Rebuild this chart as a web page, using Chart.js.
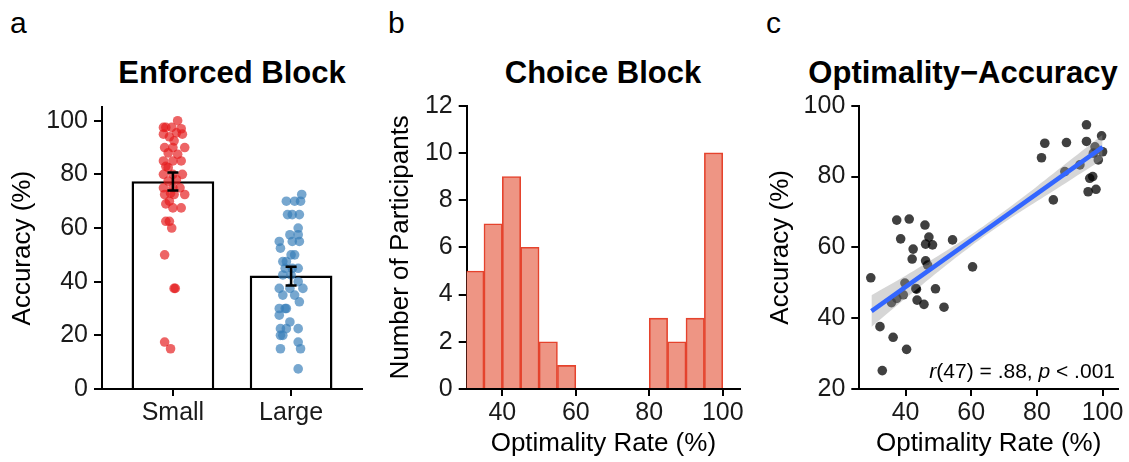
<!DOCTYPE html>
<html lang="en">
<head>
    <meta charset="UTF-8">
    <title>Enforced / Choice Block</title>
    <style>
        body {
            margin: 0;
            width: 1129px;
            height: 462px;
            position: relative;
            background: #fff;
            font-family: "Liberation Sans", Arial, sans-serif;
            overflow: hidden;
        }
        canvas {
            position: absolute;
            top: 0;
        }
        .letter {
            position: absolute;
            top: 5px;
            font-size: 30px;
            line-height: 36px;
            color: #000;
        }
        .title {
            position: absolute;
            top: 55px;
            width: 400px;
            text-align: center;
            font-size: 31px;
            font-weight: bold;
            line-height: 36px;
            color: #000;
        }
        .stat {
            position: absolute;
            top: 359px;
            right: 14px;
            font-size: 21px;
            line-height: 24px;
            color: #000;
        }
    </style>
</head>
<body>
    <div class="letter" style="left:10px">a</div>
    <div class="letter" style="left:388px">b</div>
    <div class="letter" style="left:766px">c</div>

    <div class="title" style="left:32px">Enforced Block</div>
    <div class="title" style="left:403px">Choice Block</div>
    <div class="title" style="left:763px">Optimality−Accuracy</div>

    <canvas id="chartA" width="375" height="462" style="left:0px"></canvas>
    <canvas id="chartB" width="375" height="462" style="left:375px"></canvas>
    <canvas id="chartC" width="379" height="462" style="left:750px"></canvas>

    <div class="stat"><i>r</i>(47) = .88, <i>p</i> &lt; .001</div>

    <script src="https://cdn.jsdelivr.net/npm/chart.js"></script>
    <script>
        // ---- panel a: accuracy per reward size ----
        const groups = ['Small', 'Large'];
        const meanAcc = [77.4, 42.3];
        const seLow = [74.0, 38.6];
        const seHigh = [80.7, 45.6];

        const smallAcc = [100, 97.5, 97.5, 97.5, 97, 95, 95, 94, 92.5, 95.5, 90, 90, 90, 88, 87.5,
            85, 85, 85, 83, 82.5, 80, 80, 80, 78, 77.5, 75, 75, 75, 73, 72.5, 72.5, 72.5, 70, 69,
            67.5, 67.5, 62.5, 62.5, 60, 50, 37.5, 37.5, 17.5, 15];
        const smallJitter = [0.04, -0.08, -0.06, -0.01, 0.07, -0.08, 0.08, -0.03, 0.01, 0.03, -0.07, 0, 0.10, -0.04, 0.04,
            -0.08, 0, 0.07, -0.06, -0.04, -0.08, 0, 0.08, 0.03, -0.04, -0.08, 0, 0.06, -0.02, -0.07, 0.01, 0.10, -0.03, -0.06,
            0, 0.07, -0.06, -0.03, -0.01, -0.07, 0.01, 0.02, -0.07, -0.02];

        const largeAcc = [72.5, 70, 70, 70, 65, 65, 65, 60, 57.5, 57.5, 55, 55, 55, 52.5, 50, 50,
            47.5, 47.5, 45, 45, 45, 42.5, 42.5, 40, 37.5, 37.5, 37.5, 35, 35, 32.5, 30, 30, 30,
            27.5, 25, 22.5, 22.5, 22.5, 20, 20, 17.5, 15, 15, 7.5];
        const largeJitter = [0.09, -0.04, 0.03, 0.08, -0.03, 0.01, 0.07, 0.06, -0.01, 0.06, -0.10, 0.01, 0.07, -0.09, 0.03, 0,
            -0.07, -0.04, -0.05, 0.01, 0.06, -0.07, 0, 0.06, -0.10, -0.01, 0.10, -0.07, 0.03, 0.07, -0.10, -0.05, -0.04,
            -0.10, -0.01, -0.09, -0.04, 0.06, -0.09, -0.07, 0.06, -0.09, 0.08, 0.06];

        // ---- panel b: histogram of optimality rate ----
        const binCenters = [32.5, 37.5, 42.5, 47.5, 52.5, 57.5, 82.5, 87.5, 92.5, 97.5];
        const binCounts = [5, 7, 9, 6, 2, 1, 3, 2, 3, 10];

        // ---- panel c: optimality vs accuracy ----
        const optRate = [37.3, 41.1, 45.9, 38.5, 47.1, 48.2, 46.1, 54.3, 42.3, 42.0, 46.1, 46.7, 60.4, 29.4,
            39.8, 43.1, 43.3, 49.1, 39.3, 37.3, 35.7, 43.5, 45.6, 51.7, 32.2, 36.2, 40.3, 32.9,
            95.1, 82.4, 89.0, 95.1, 99.7, 81.4, 97.7, 100, 98.7, 93.1, 88.5, 96.1, 97.0, 95.6, 98.0, 85.0, 97.2];
        const accuracy = [67.7, 68.0, 66.3, 62.4, 62.9, 60.7, 60.9, 62.1, 59.5, 56.7, 56.2, 55.0, 54.5, 51.4,
            49.9, 48.4, 48.2, 48.3, 46.6, 45.6, 44.4, 45.1, 43.9, 43.1, 37.6, 34.6, 31.2, 25.2,
            94.6, 89.4, 89.6, 89.9, 91.5, 85.3, 88.4, 87.0, 84.7, 83.3, 81.4, 79.5, 80.0, 75.7, 76.4, 73.4, 86.6];

        const fitX = [29.6, 100];
        const fitY = [42.0, 88.3];
        const bandX = [29.6, 40, 50, 60, 70, 80, 90, 100];
        const bandUpper = [46.5, 52.0, 57.6, 63.6, 70.2, 77.2, 84.5, 91.8];
        const bandLower = [37.5, 45.6, 53.2, 60.4, 67.0, 73.0, 78.9, 84.8];

        Chart.defaults.font.family = '"Liberation Sans", Arial, sans-serif';
        Chart.defaults.color = '#000';
        Chart.defaults.animation = false;

        // axis in ggplot classic style: black line, outward ticks, no grid
        function axis(min, max, tickVals, opts) {
            return {
                type: 'linear',
                min: min,
                max: max,
                offset: false,
                afterBuildTicks: s => { s.ticks = tickVals.map(v => ({ value: v })); },
                afterFit: opts.fit,
                border: { display: true, color: '#000', width: 2 },
                grid: {
                    drawOnChartArea: false, drawTicks: true, offset: false,
                    tickLength: opts.tickLength, color: '#000', lineWidth: 2
                },
                ticks: {
                    color: '#1a1a1a', font: { size: 25 }, padding: opts.padding,
                    autoSkip: false, maxRotation: 0, minRotation: 0,
                    callback: opts.label || (v => v)
                },
                title: opts.title ? {
                    display: true, text: opts.title, color: '#000',
                    font: { size: 26 }, padding: opts.titlePad
                } : { display: false }
            };
        }

        const baseOpts = {
            responsive: false,
            plugins: { legend: { display: false }, tooltip: { enabled: false } }
        };

        // error bars for panel a
        const errorBars = {
            id: 'errorBars',
            afterDatasetsDraw(chart) {
                const { ctx, scales: { x, y } } = chart;
                ctx.save();
                ctx.strokeStyle = '#000';
                ctx.lineWidth = 2.5;
                meanAcc.forEach((m, i) => {
                    const px = x.getPixelForValue(i + 1);
                    const lo = y.getPixelForValue(seLow[i]);
                    const hi = y.getPixelForValue(seHigh[i]);
                    ctx.beginPath();
                    ctx.moveTo(px, lo); ctx.lineTo(px, hi);
                    ctx.moveTo(px - 5.5, lo); ctx.lineTo(px + 5.5, lo);
                    ctx.moveTo(px - 5.5, hi); ctx.lineTo(px + 5.5, hi);
                    ctx.stroke();
                });
                ctx.restore();
            }
        };

        new Chart(document.getElementById('chartA'), {
            type: 'bar',
            data: {
                datasets: [
                    {
                        type: 'scatter',
                        data: smallAcc.map((v, i) => ({ x: 1 + smallJitter[i], y: v })),
                        backgroundColor: 'rgba(228,26,28,0.68)',
                        borderWidth: 0,
                        pointRadius: 4.8
                    },
                    {
                        type: 'scatter',
                        data: largeAcc.map((v, i) => ({ x: 2 + largeJitter[i], y: v })),
                        backgroundColor: 'rgba(55,126,184,0.68)',
                        borderWidth: 0,
                        pointRadius: 4.8
                    },
                    {
                        type: 'bar',
                        data: meanAcc.map((v, i) => ({ x: i + 1, y: v })),
                        backgroundColor: '#fff',
                        borderColor: '#000',
                        borderWidth: 2.5,
                        barPercentage: 0.7,
                        categoryPercentage: 1
                    }
                ]
            },
            options: Object.assign({}, baseOpts, {
                layout: { padding: { left: 0, right: 13, top: 107.3, bottom: 0 } },
                scales: {
                    x: axis(0.4, 2.6, [1, 2], {
                        fit: s => { s.height = 73; }, tickLength: 7, padding: 2,
                        label: v => groups[Math.round(v) - 1]
                    }),
                    y: axis(0, 105, [0, 20, 40, 60, 80, 100], {
                        fit: s => { s.width = 102; }, tickLength: 8, padding: 6,
                        title: 'Accuracy (%)', titlePad: { top: 7.4, bottom: 0 }
                    })
                }
            }),
            plugins: [errorBars]
        });

        new Chart(document.getElementById('chartB'), {
            type: 'bar',
            data: {
                datasets: [{
                    data: binCenters.map((c, i) => ({ x: c, y: binCounts[i] })),
                    backgroundColor: '#EE9584',
                    borderColor: '#E5432D',
                    borderWidth: 1.6,
                    barPercentage: 1,
                    categoryPercentage: 1
                }]
            },
            options: Object.assign({}, baseOpts, {
                layout: { padding: { left: 0, right: 10, top: 105.7, bottom: 0 } },
                scales: {
                    x: axis(30.3, 104.7, [40, 60, 80, 100], {
                        fit: s => { s.height = 73; }, tickLength: 7, padding: 2,
                        title: 'Optimality Rate (%)', titlePad: { top: 0, bottom: 3 }
                    }),
                    y: axis(0, 12, [0, 2, 4, 6, 8, 10, 12], {
                        fit: s => { s.width = 91.7; }, tickLength: 8, padding: 6,
                        title: 'Number of Participants', titlePad: { top: 10.4, bottom: 0 }
                    })
                }
            })
        });

        new Chart(document.getElementById('chartC'), {
            type: 'scatter',
            data: {
                datasets: [
                    {
                        type: 'line',
                        data: fitX.map((v, i) => ({ x: v, y: fitY[i] })),
                        borderColor: '#3366FF',
                        borderWidth: 4.5,
                        pointRadius: 0,
                        fill: false,
                        order: 0
                    },
                    {
                        type: 'line',
                        data: bandX.map((v, i) => ({ x: v, y: bandUpper[i] })),
                        borderColor: 'transparent',
                        pointRadius: 0,
                        tension: 0.3,
                        fill: '+1',
                        backgroundColor: 'rgba(153,153,153,0.4)',
                        order: 1
                    },
                    {
                        type: 'line',
                        data: bandX.map((v, i) => ({ x: v, y: bandLower[i] })),
                        borderColor: 'transparent',
                        pointRadius: 0,
                        tension: 0.3,
                        fill: false,
                        order: 1
                    },
                    {
                        type: 'scatter',
                        data: optRate.map((v, i) => ({ x: v, y: accuracy[i] })),
                        backgroundColor: 'rgba(0,0,0,0.75)',
                        borderWidth: 0,
                        pointRadius: 4.8,
                        order: 2
                    }
                ]
            },
            options: Object.assign({}, baseOpts, {
                layout: { padding: { left: 0, right: 11, top: 105.7, bottom: 0 } },
                scales: {
                    x: axis(25.9, 104.7, [40, 60, 80, 100], {
                        fit: s => { s.height = 73; }, tickLength: 7, padding: 2,
                        title: 'Optimality Rate (%)', titlePad: { top: 0, bottom: 3 }
                    }),
                    y: axis(20, 100, [20, 40, 60, 80, 100], {
                        fit: s => { s.width = 109.3; }, tickLength: 8, padding: 6,
                        title: 'Accuracy (%)', titlePad: { top: 15.4, bottom: 0 }
                    })
                }
            })
        });
    </script>
</body>
</html>
